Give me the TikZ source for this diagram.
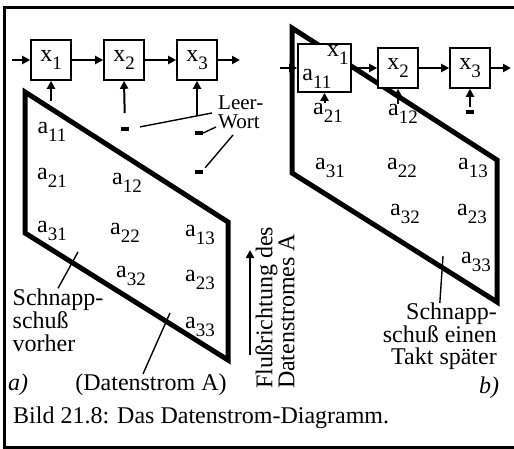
\documentclass[tikz,border=0pt]{standalone}
\usepackage{fontspec}
\setmainfont{Liberation Serif}
\usetikzlibrary{arrows.meta,positioning}
\newcommand{\ix}[2]{#1\raisebox{-0.32em}{\fontsize{19}{19}\selectfont #2}}
\tikzset{
  >={Triangle[length=8pt,width=8pt]},
  every node/.style={font=\fontsize{24}{23}\selectfont,inner sep=0pt},
  reg/.style={draw,line width=1.6pt,fill=white,minimum width=40pt,minimum height=40pt},
  bigreg/.style={reg,minimum width=53pt,minimum height=48pt},
  leer/.style={fill,minimum width=8pt,minimum height=3.5pt},
  feed/.style={->,line width=2pt},
  stream/.style={line width=5pt,line join=miter},
  pointer/.style={line width=1.4pt},
  frame/.style={line width=3pt},
  note/.style={align=left,font=\fontsize{24}{23}\selectfont}
}
\begin{document}
\begin{tikzpicture}[x=1pt,y=-1pt]
  \useasboundingbox (0,0) rectangle (514,449);
  \draw[frame] (514,8) -- (4,8) -- (4,447) -- (514,447);

  % a) Schnappschuss vorher
  \draw[stream] (25,92) -- (228,222) -- (228,360) -- (25,233) -- cycle;
  \node[reg] (xa1) at (51,60) {\ix{x}{1}};
  \node[reg] (xa2) at (124,60) {\ix{x}{2}};
  \node[reg] (xa3) at (197,60) {\ix{x}{3}};
  \coordinate (ina) at (12,60);
  \coordinate (outa) at (240,60);
  \draw[feed] (ina) -- (xa1);
  \draw[feed] (xa1) -- (xa2);
  \draw[feed] (xa2) -- (xa3);
  \draw[feed] (xa3) -- (outa);

  \node[leer] (ea2) at (125,129) {};
  \node[leer] (ea3) at (199,133) {};
  \node[leer] (ea4) at (199,172) {};
  \coordinate (ta1) at (51,101);
  \coordinate (ta3) at (197,116);
  \draw[feed] (ta1) -- (xa1.south);
  \draw[feed,shorten <=14pt] (ea2.north) -- (xa2.south);
  \draw[feed] (ta3) -- (xa3.south);

  \node[align=left,font=\fontsize{21}{19}\selectfont,anchor=west] (lw) at (218,112) {Leer-\\Wort};
  \coordinate (lw1) at (212,113);
  \coordinate (lw2) at (216,127);
  \coordinate (lw3) at (233,135);
  \draw[pointer,shorten <=11pt] (ea2.east) -- (lw1);
  \draw[pointer] (ea3.east) -- (lw2);
  \draw[pointer,shorten <=3pt] (ea4.north east) -- (lw3);

  \node (a11a) at (52,132) {\ix{a}{11}};
  \node (a21a) at (52,178) {\ix{a}{21}};
  \node (a12a) at (127,183) {\ix{a}{12}};
  \node (a31a) at (52,231) {\ix{a}{31}};
  \node (a22a) at (125,233) {\ix{a}{22}};
  \node (a13a) at (200,235) {\ix{a}{13}};
  \node (a32a) at (131,276) {\ix{a}{32}};
  \node (a23a) at (200,280) {\ix{a}{23}};
  \node (a33a) at (200,327) {\ix{a}{33}};

  \node[note] (snapa) at (58,320) {Schnapp-\\schuß\\vorher};
  \coordinate (snapA) at (78,252);
  \draw[pointer] (snapa.north) -- (snapA);
  \node (dsa) at (151,385) {(Datenstrom A)};
  \coordinate (dsA) at (170,313);
  \draw[pointer] ([xshift=-8pt]dsa.north) -- (dsA);
  \node[font=\fontsize{24}{23}\selectfont\itshape] (laba) at (18,385) {a)};

  % Flussrichtung
  \coordinate (flowtail) at (250,355);
  \coordinate (flowtip) at (250,250);
  \draw[feed] (flowtail) -- (flowtip);
  \node[rotate=90,align=left,font=\fontsize{24}{20}\selectfont] (flow) at (275,308) {Flußrichtung des\\Datenstromes A};

  % b) Schnappschuss einen Takt spaeter
  \draw[stream] (292,28) -- (497,160) -- (497,302) -- (292,173) -- cycle;
  \node[bigreg] (xb1) at (324.5,68) {};
  \node[anchor=north east] (x1b) at ([xshift=-3pt,yshift=-2pt]xb1.north east) {\ix{x}{1}};
  \node[anchor=south west] (a11b) at ([xshift=5pt,yshift=4pt]xb1.south west) {\ix{a}{11}};
  \node[reg] (xb2) at (398,68) {\ix{x}{2}};
  \node[reg] (xb3) at (470,68) {\ix{x}{3}};
  \coordinate (inb) at (280,68);
  \coordinate (outb) at (511,68);
  \draw[feed] (inb) -- (xb1);
  \draw[feed] (xb1) -- (xb2);
  \draw[feed] (xb2) -- (xb3);
  \draw[feed] (xb3) -- (outb);

  \node (a21b) at (328,113) {\ix{a}{21}};
  \node (a12b) at (403,114) {\ix{a}{12}};
  \node[leer] (eb3) at (470,112) {};
  \draw[feed] (xb1.south |- a21b.north) -- (xb1.south);
  \draw[feed] (xb2.south |- a12b.north) -- (xb2.south);
  \draw[feed,shorten <=3pt] (eb3.north) -- (xb3.south);

  \node (a31b) at (330,168) {\ix{a}{31}};
  \node (a22b) at (402,168) {\ix{a}{22}};
  \node (a13b) at (473,168) {\ix{a}{13}};
  \node (a32b) at (405,214) {\ix{a}{32}};
  \node (a23b) at (472,214) {\ix{a}{23}};
  \node (a33b) at (476,262) {\ix{a}{33}};

  \node[align=right,anchor=north east,font=\fontsize{24}{22}\selectfont] (snapb) at (497,303) {Schnapp-\\schuß einen\\Takt später};
  \coordinate (snapB) at (443,256);
  \draw[pointer] (snapb.north) -- (snapB);
  \node[font=\fontsize{24}{23}\selectfont\itshape] (labb) at (489,388) {b)};

  \node[anchor=west] (cap) at (13,418) {Bild 21.8: Das Datenstrom-Diagramm.};
\end{tikzpicture}
\end{document}
